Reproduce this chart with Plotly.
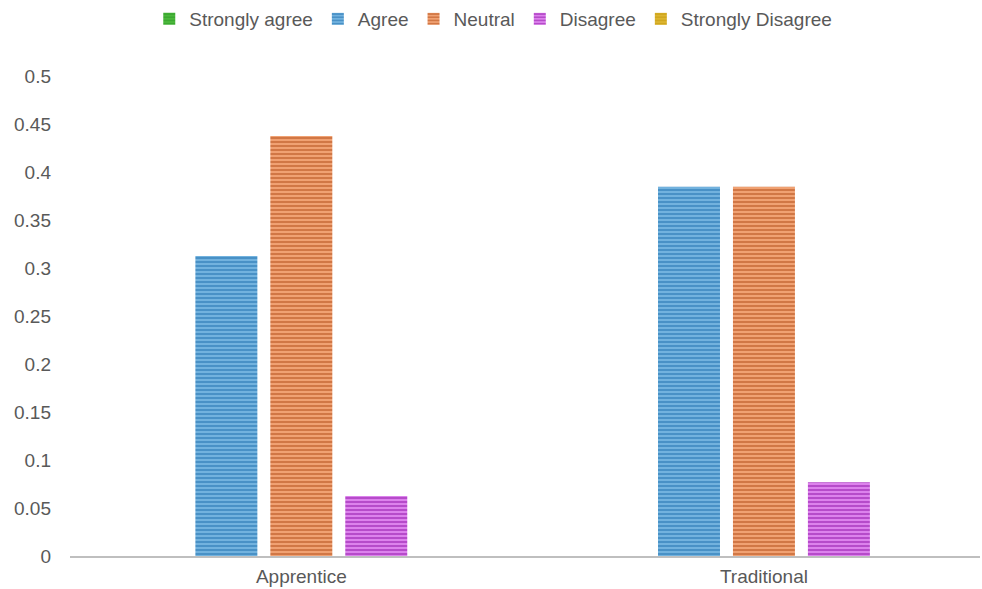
import plotly.graph_objects as go

categories = ["Apprentice", "Traditional"]
series = ["Strongly agree", "Agree", "Neutral", "Disagree", "Strongly Disagree"]
values = {
    "Strongly agree": [0, 0],
    "Agree": [0.3125, 0.3846],
    "Neutral": [0.4375, 0.3846],
    "Disagree": [0.0625, 0.0769],
    "Strongly Disagree": [0, 0],
}
y_ticks = [0, 0.05, 0.1, 0.15, 0.2, 0.25, 0.3, 0.35, 0.4, 0.45, 0.5]

# (stripe colour, base colour) per series
colors = {
    "Strongly agree": ("#2a9a25", "#4cb83c"),
    "Agree": ("#1f6fae", "#72b2de"),
    "Neutral": ("#b24e17", "#f0a172"),
    "Disagree": ("#9014a8", "#dc82ec"),
    "Strongly Disagree": ("#c49a0e", "#dcb530"),
}

fig = go.Figure()
for name in series:
    fg, bg = colors[name]
    fig.add_trace(go.Bar(
        name=name,
        x=categories,
        y=values[name],
        marker=dict(
            color=bg,
            line=dict(width=0),
            pattern=dict(shape="-", fgcolor=fg, bgcolor=bg, size=4, solidity=0.5),
        ),
    ))

fig.update_layout(
    width=982,
    height=589,
    margin=dict(l=70, r=2, t=76, b=33),
    paper_bgcolor="white",
    plot_bgcolor="white",
    barmode="group",
    bargap=0.19,
    bargroupgap=0.173,
    font=dict(family="Liberation Sans, Arial, sans-serif", size=19, color="#595959"),
    showlegend=True,
    legend=dict(
        orientation="h",
        xref="container",
        x=0.152, xanchor="left",
        y=1.0, yanchor="top",
        yref="container",
        font=dict(size=19, color="#595959"),
        itemwidth=30,
        tracegroupgap=0,
    ),
    xaxis=dict(
        range=[-0.5, 1.467],
        automargin=False,
        showline=True,
        linecolor="#bfbfbf",
        linewidth=2,
        showgrid=False,
        ticks="",
        ticklabelstandoff=2,
        tickfont=dict(size=19, color="#595959"),
    ),
    yaxis=dict(
        range=[0, 0.5],
        automargin=False,
        tickvals=y_ticks,
        ticktext=[f"{v:g}" for v in y_ticks],
        showgrid=False,
        zeroline=False,
        showline=False,
        ticks="",
        ticklabelstandoff=18,
        tickfont=dict(size=19, color="#595959"),
    ),
)

fig.write_html("out.html")
